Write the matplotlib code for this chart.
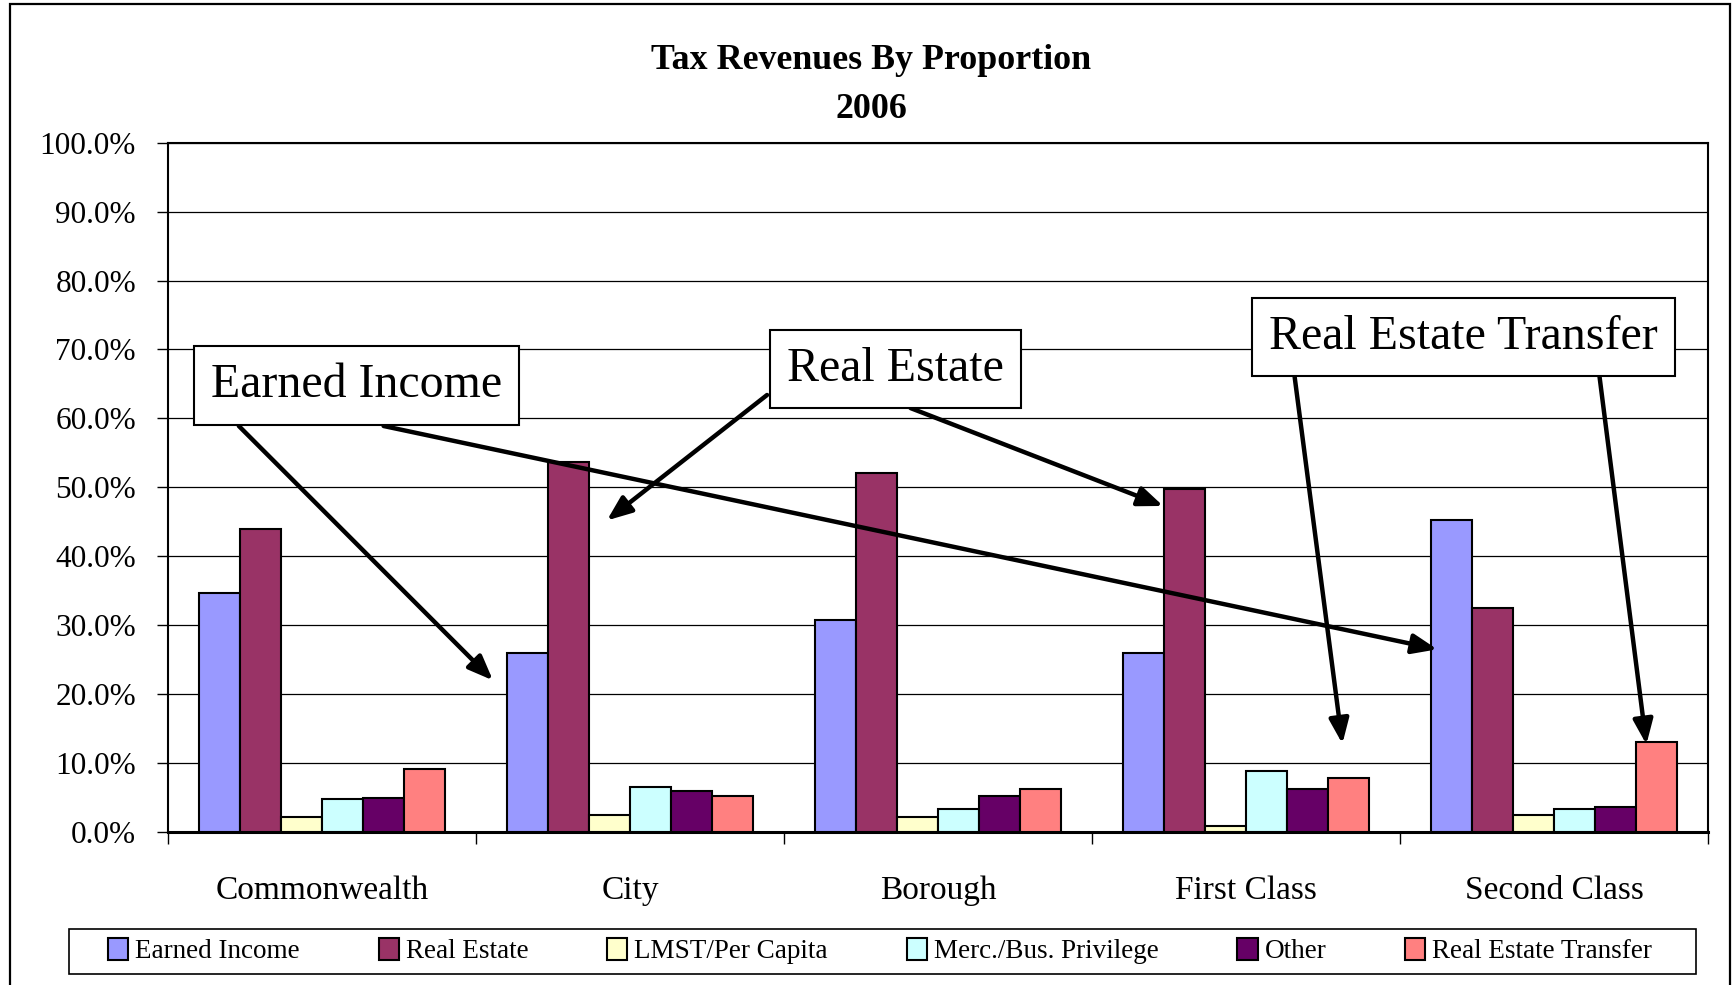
import matplotlib
matplotlib.use("Agg")
import matplotlib.pyplot as plt
from matplotlib.patches import Rectangle
import numpy as np

# ---- data ----
categories = ["Commonwealth", "City", "Borough", "First Class", "Second Class"]
series_names = ["Earned Income", "Real Estate", "LMST/Per Capita",
                "Merc./Bus. Privilege", "Other", "Real Estate Transfer"]
earned_income = [34.7, 25.9, 30.7, 25.9, 45.2]
real_estate = [43.9, 53.7, 52.1, 49.8, 32.5]
lmst_per_capita = [2.2, 2.5, 2.2, 0.9, 2.5]
merc_bus_privilege = [4.8, 6.5, 3.3, 8.8, 3.3]
other = [4.9, 5.9, 5.2, 6.2, 3.6]
real_estate_transfer = [9.1, 5.2, 6.2, 7.8, 13.0]
y_ticks = [0, 10, 20, 30, 40, 50, 60, 70, 80, 90, 100]

series_values = [earned_income, real_estate, lmst_per_capita,
                 merc_bus_privilege, other, real_estate_transfer]
colors = ["#9999FF", "#993366", "#FFFFCC", "#CCFFFF", "#660066", "#FF8080"]

plt.rcParams['font.family'] = ['Liberation Serif', 'DejaVu Serif']

W, H = 1733, 985
fig = plt.figure(figsize=(W / 100, H / 100), dpi=100)
fig.patch.set_facecolor("white")

ax = fig.add_axes([168 / W, 1 - 832 / H, (1708 - 168) / W, (832 - 142.7) / H])

x = np.arange(len(categories))
n = len(series_values)
bw = 0.8 / n
for i, (name, vals, c) in enumerate(zip(series_names, series_values, colors)):
    offs = (i - (n - 1) / 2) * bw
    ax.bar(x + offs, vals, width=bw, color=c, edgecolor="black",
           linewidth=1.5, label=name, zorder=3)

ax.set_xlim(-0.5, len(categories) - 0.5)
ax.set_ylim(0, 100)
ax.set_yticks(y_ticks)
ax.set_yticklabels([f"{v:.1f}%" for v in y_ticks], fontsize=22.5)
ax.yaxis.grid(True, color="black", linewidth=0.9, zorder=0)
ax.set_axisbelow(True)
ax.tick_params(axis="y", direction="out", length=8, width=1, pad=15)

ax.set_xticks(np.arange(len(categories) + 1) - 0.5)
ax.set_xticklabels([])
ax.tick_params(axis="x", which="major", direction="out", length=8.5, width=1)
ax.set_xticks(x, minor=True)
ax.set_xticklabels(categories, minor=True, fontsize=24)
ax.tick_params(axis="x", which="minor", length=0, pad=31)

for s in ["left", "right", "top"]:
    ax.spines[s].set_linewidth(1.5)
ax.spines["bottom"].set_linewidth(2.2)

# title
fig.text(871 / W, 1 - 60.5 / H, "Tax Revenues By Proportion", ha="center",
         va="center", fontsize=25.8, fontweight="bold")
fig.text(871 / W, 1 - 109 / H, "2006", ha="center", va="center",
         fontsize=25.8, fontweight="bold")

# annotations
arrow_kw = dict(arrowstyle="-|>,head_length=0.5,head_width=0.2",
                color="black", lw=3.2, mutation_scale=30,
                shrinkA=0, shrinkB=0)
arrows = [
    ((-0.270, 58.9), (0.555, 22.0)),
    ((0.200, 58.9), (3.621, 26.5)),
    ((1.445, 63.4), (0.925, 45.2)),
    ((1.911, 61.5), (2.731, 47.3)),
    ((3.158, 66.0), (3.313, 12.8)),
    ((4.148, 66.0), (4.300, 12.7)),
]
for (sx, sy), (ex, ey) in arrows:
    ax.annotate("", xy=(ex, ey), xytext=(sx, sy), xycoords="data",
                textcoords="data", arrowprops=arrow_kw, zorder=5,
                annotation_clip=False)

box_kw = dict(boxstyle="square,pad=0.36", facecolor="white",
              edgecolor="black", linewidth=1.5)
labels = [("Earned Income", 0.112, 64.8),
          ("Real Estate", 1.862, 67.2),
          ("Real Estate Transfer", 3.705, 71.8)]
for txt, lx, ly in labels:
    ax.text(lx, ly, txt, ha="center", va="center", fontsize=34.5,
            bbox=box_kw, zorder=6)

# legend
handles, lbls = ax.get_legend_handles_labels()
leg = fig.legend(handles, lbls, loc="center", ncol=6, mode="expand",
                 bbox_to_anchor=(108 / W, 1 - 971 / H, (1652 - 108) / W, 40 / H),
                 frameon=False, fontsize=19.5, handlelength=0.75,
                 handleheight=0.85, handletextpad=0.25, borderpad=0,
                 borderaxespad=0)
fig.patches.append(Rectangle((69 / W, 1 - 974 / H), (1696 - 69) / W, 45 / H,
                             transform=fig.transFigure, fill=False,
                             edgecolor="black", linewidth=1.2))

# outer chart border
fig.patches.append(Rectangle((10 / W, -0.02), (1730 - 10) / W, 1 - 4 / H + 0.02,
                             transform=fig.transFigure, fill=False,
                             edgecolor="black", linewidth=1.6))

fig.savefig("out.png", dpi=100)
